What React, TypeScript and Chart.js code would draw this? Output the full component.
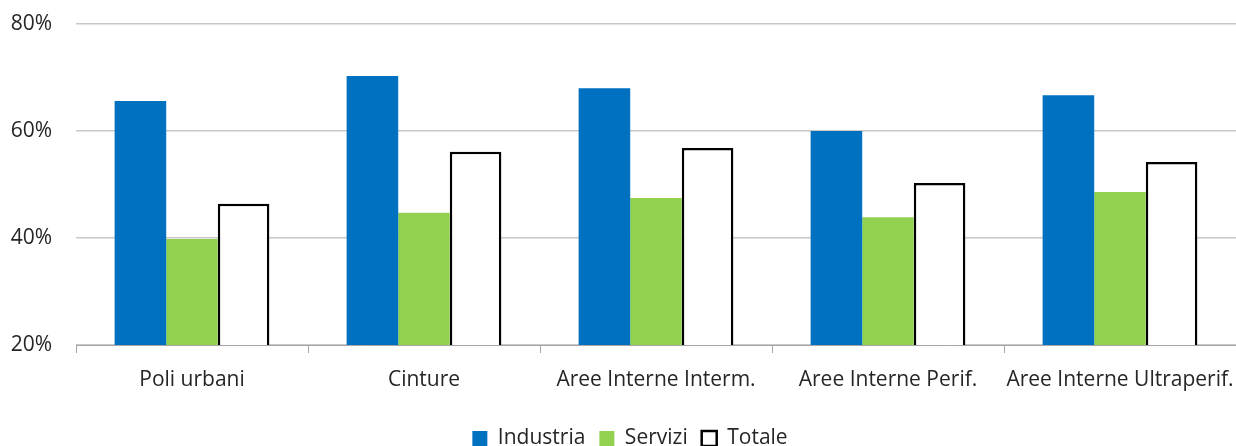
import React, { useEffect, useRef } from "react";
import { Chart, registerables } from "chart.js";

Chart.register(...registerables);

const categories = ["Poli urbani", "Cinture", "Aree Interne Interm.", "Aree Interne Perif.", "Aree Interne Ultraperif."];
const industria = [65.6, 70.3, 68.0, 60.0, 66.7];
const servizi = [39.8, 44.7, 47.5, 43.9, 48.6];
const totale = [46.4, 56.1, 56.8, 50.3, 54.2];
const yTicks = [20, 40, 60, 80];

const legendShift = {
  id: "legendShift",
  afterLayout(chart: any) {
    if (chart.legend) {
      chart.legend.left += 12;
      chart.legend.right += 12;
    }
  },
};

export default function App() {
  const ref = useRef<HTMLCanvasElement>(null);
  useEffect(() => {
    document.body.style.margin = "0";
    const font = { family: "'Open Sans', sans-serif", size: 21 };
    const chart = new Chart(ref.current!, {
      type: "bar",
      data: {
        labels: categories,
        datasets: [
          { label: "Industria", data: industria, backgroundColor: "#0070c0", borderWidth: 0 },
          { label: "Servizi", data: servizi, backgroundColor: "#92d050", borderWidth: 0 },
          { label: "Totale", data: totale, backgroundColor: "#ffffff", borderColor: "#000000", borderWidth: 2.5, borderSkipped: false },
        ],
      },
      plugins: [legendShift],
      options: {
        animation: false,
        responsive: false,
        maintainAspectRatio: false,
        layout: { padding: { top: 24, right: 0, left: 0, bottom: -13 } },
        datasets: { bar: { categoryPercentage: 0.667, barPercentage: 1 } },
        plugins: {
          tooltip: { enabled: false },
          legend: {
            position: "bottom",
            labels: {
              font,
              color: "#262626",
              boxWidth: 15,
              boxHeight: 15,
              padding: 14,
            },
          },
        },
        scales: {
          x: {
            offset: true,
            afterFit: (s: any) => { s.height = 69; s.paddingRight = 0; s.paddingLeft = 0; },
            grid: { display: true, drawOnChartArea: false, drawTicks: true, tickLength: 8, color: "#a6a6a6", offset: true },
            border: { display: true, color: "#a6a6a6", width: 1 },
            ticks: { font, color: "#262626", padding: 14, maxRotation: 0 },
          },
          y: {
            min: 20,
            max: 80,
            afterFit: (s: any) => { s.width = 76; s.paddingTop = 0; s.paddingBottom = 0; },
            afterBuildTicks: (s: any) => { s.ticks = yTicks.map((v) => ({ value: v })); },
            grid: { color: "#c8c8c8", drawTicks: false, lineWidth: 1.5 },
            border: { display: false },
            ticks: { font, color: "#262626", padding: 24, callback: (v: any) => v + "%" },
          },
        },
      },
    });
    return () => chart.destroy();
  }, []);
  return (
    <div style={{ width: 1236, height: 446 }}>
      <canvas ref={ref} width={1236} height={446} style={{ width: 1236, height: 446 }} />
    </div>
  );
}
